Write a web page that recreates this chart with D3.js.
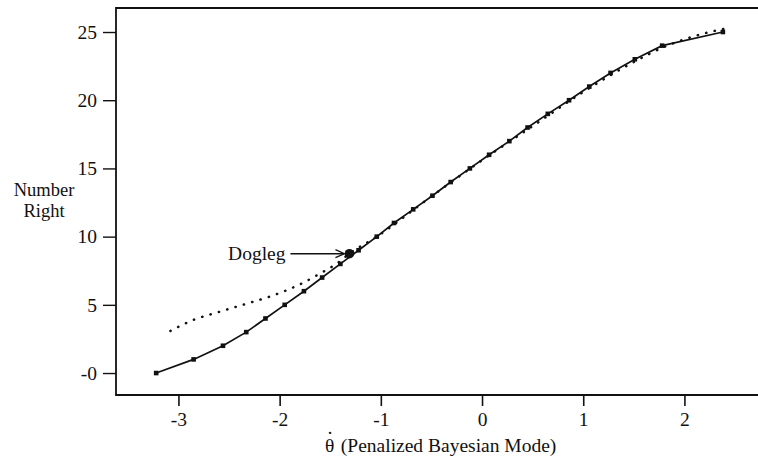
<!DOCTYPE html>
<html>
<head>
<meta charset="utf-8">
<script src="https://cdn.jsdelivr.net/npm/d3@7"></script>
<style>
body { margin:0; background:#fff; }
text { font-family: "Liberation Serif", "Times New Roman", serif; fill:#111; }
</style>
</head>
<body>
<svg id="drawing_region"></svg>
<script>
// number right (observed) vs penalized bayesian mode
const number_right = [0,1,2,3,4,5,6,7,8,9,10,11,12,13,14,15,16,17,18,19,20,21,22,23,24,25];
const theta_mode = [-3.22,-2.85,-2.56,-2.33,-2.14,-1.95,-1.76,-1.58,-1.40,-1.22,-1.04,-0.87,-0.68,-0.49,-0.31,-0.12,0.07,0.27,0.45,0.65,0.86,1.06,1.27,1.51,1.78,2.38];

// dotted curve
const curve_theta = [-3.08,-2.85,-2.59,-2.32,-2.06,-1.80,-1.60,-1.43,-1.31,-1.04,-0.5,0.0,0.5,1.0,1.5,1.8,2.1,2.43];
const curve_right = [3.08,3.9,4.5,5.1,5.7,6.5,7.3,8.05,8.75,10.0,12.95,15.6,18.1,20.6,22.8,23.9,24.7,25.3];

const dogleg = {theta: -1.31, right: 8.75, label: 'Dogleg'};

const x_ticks = [-3,-2,-1,0,1,2];
const y_ticks = [0,5,10,15,20,25];
const y_tick_labels = ['-0','5','10','15','20','25'];

class DoglegChart {
    constructor( config ) {
        this.config = config;
        this.init();
    }
    init() {
        let self = this;
        self.svg = d3.select( self.config.parent )
            .attr('width', self.config.width)
            .attr('height', self.config.height);
        const m = self.config.margin;
        self.xscale = d3.scaleLinear()
            .domain([-3.617, 2.727])
            .range([m.left, self.config.width - m.right]);
        self.yscale = d3.scaleLinear()
            .domain([-1.61, 26.76])
            .range([self.config.height - m.bottom, m.top]);
    }
    render() {
        let self = this;
        const x = self.xscale, y = self.yscale;
        const x0 = x.range()[0], x1 = x.range()[1];
        const y0 = y.range()[0], y1 = y.range()[1];

        // frame (left, top, bottom)
        self.svg.append('path')
            .attr('d', `M${x1},${y1}H${x0}V${y0}H${x1}`)
            .attr('fill', 'none')
            .attr('stroke', '#111')
            .attr('stroke-width', 1.8);

        const xaxis = d3.axisBottom(x)
            .tickValues(x_ticks)
            .tickSize(11)
            .tickSizeOuter(0)
            .tickFormat(d => String(d));
        const xg = self.svg.append('g')
            .attr('transform', `translate(0, ${y0})`)
            .call(xaxis);
        xg.select('.domain').remove();
        xg.selectAll('line').attr('stroke', '#111').attr('stroke-width', 1.6);
        xg.selectAll('text')
            .attr('font-size', 19.5)
            .attr('y', 17)
            .attr('dy', '0.71em')
            .attr('font-family', '"Liberation Serif", serif')
            .attr('fill', '#111');

        const yaxis = d3.axisLeft(y)
            .tickValues(y_ticks)
            .tickSize(13)
            .tickSizeOuter(0)
            .tickFormat((d, i) => y_tick_labels[i]);
        const yg = self.svg.append('g')
            .attr('transform', `translate(${x0}, 0)`)
            .call(yaxis);
        yg.select('.domain').remove();
        yg.selectAll('line').attr('stroke', '#111').attr('stroke-width', 1.4);
        yg.selectAll('text')
            .attr('font-size', 19.5)
            .attr('x', -19)
            .attr('font-family', '"Liberation Serif", serif')
            .attr('fill', '#111');

        // dotted curve
        const curve = d3.line()
            .x( d => x(d[0]) )
            .y( d => y(d[1]) )
            .curve(d3.curveMonotoneX);
        self.svg.append('path')
            .attr('d', curve(d3.zip(curve_theta, curve_right)))
            .attr('fill', 'none')
            .attr('stroke', '#111')
            .attr('stroke-width', 2.5)
            .attr('stroke-linecap', 'round')
            .attr('stroke-dasharray', '0.3,8.4');

        // solid line + markers
        const pts = d3.zip(theta_mode, number_right);
        const line = d3.line()
            .x( d => x(d[0]) )
            .y( d => y(d[1]) );
        self.svg.append('path')
            .attr('d', line(pts))
            .attr('fill', 'none')
            .attr('stroke', '#111')
            .attr('stroke-width', 1.7);
        self.svg.selectAll('.mark')
            .data(pts)
            .join('rect')
            .attr('class', 'mark')
            .attr('x', d => x(d[0]) - 2.3)
            .attr('y', d => y(d[1]) - 2.3)
            .attr('width', 4.6)
            .attr('height', 4.6)
            .attr('fill', '#111');

        // dogleg point, arrow and label
        const dx = x(dogleg.theta), dy = y(dogleg.right);
        self.svg.append('circle')
            .attr('cx', dx).attr('cy', dy).attr('r', 4.8)
            .attr('fill', '#111');
        self.svg.append('line')
            .attr('x1', dx - 59).attr('y1', dy)
            .attr('x2', dx - 6).attr('y2', dy)
            .attr('stroke', '#111').attr('stroke-width', 1.5);
        self.svg.append('path')
            .attr('d', `M${dx-14},${dy-4}L${dx-5},${dy}L${dx-14},${dy+4}`)
            .attr('fill', 'none')
            .attr('stroke', '#111').attr('stroke-width', 1.3);
        self.svg.append('text')
            .attr('x', dx - 64).attr('y', dy + 6)
            .attr('text-anchor', 'end')
            .attr('font-size', 19.5)
            .text(dogleg.label);

        // axis titles
        self.svg.append('text')
            .attr('x', 44).attr('y', 196)
            .attr('text-anchor', 'middle')
            .attr('font-size', 18.5)
            .text('Number');
        self.svg.append('text')
            .attr('x', 44).attr('y', 217)
            .attr('text-anchor', 'middle')
            .attr('font-size', 18.5)
            .text('Right');
        const xt = self.svg.append('text')
            .attr('x', 325).attr('y', 452)
            .attr('font-size', 19.5);
        xt.append('tspan').text('\u03B8');
        xt.append('tspan').attr('dx', -7.5).attr('dy', -13).text('\u00B7');
        xt.append('tspan').attr('dx', 2.6).attr('dy', 13).text(' (Penalized Bayesian Mode)');
    }
}

const chart = new DoglegChart({
    parent: '#drawing_region',
    width: 758,
    height: 460,
    margin: {top:8, right:0, bottom:65, left:116}
});
chart.render();
</script>
</body>
</html>
